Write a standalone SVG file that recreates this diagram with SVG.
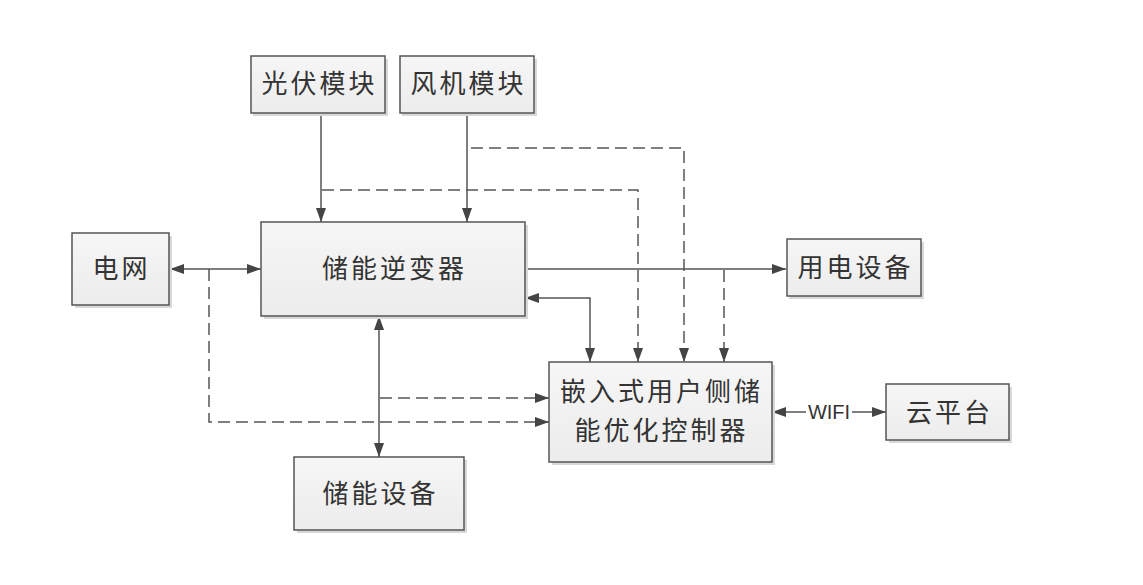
<svg xmlns="http://www.w3.org/2000/svg" width="1143" height="585" viewBox="0 0 1143 585">
<style>
.box{fill:url(#g);stroke:#555;stroke-width:1.5}
.sh{fill:#d8d8d8}
.t{font-family:"Noto Sans CJK SC","Liberation Sans",sans-serif;font-size:26px;letter-spacing:3px;fill:#333;text-anchor:middle}
.s{fill:none;stroke:#555;stroke-width:1.5}
.d{fill:none;stroke:#555;stroke-width:1.5;stroke-dasharray:12 6}
.w{font-family:"Liberation Sans",Arial,sans-serif;font-size:20px;fill:#333;text-anchor:middle}
</style>
<defs>
<linearGradient id="g" x1="0" y1="0" x2="0" y2="1">
<stop offset="0" stop-color="#f6f6f6"/>
<stop offset="1" stop-color="#ececec"/>
</linearGradient>
<marker id="a" viewBox="0 0 14 10" refX="14" refY="5" markerWidth="14" markerHeight="10" markerUnits="userSpaceOnUse" orient="auto-start-reverse">
<path d="M0,0 L14,5 L0,10 Z" fill="#444"/>
</marker>
</defs>
<rect width="1143" height="585" fill="#fff"/>
<g id="connectors">
<line class="s" x1="321" y1="113" x2="321" y2="222" marker-end="url(#a)"/>
<line class="s" x1="467" y1="113" x2="467" y2="222" marker-end="url(#a)"/>
<polyline class="d" points="471,148 684,148 684,362" marker-end="url(#a)"/>
<polyline class="d" points="322,190 638,190 638,362" marker-end="url(#a)"/>
<line class="s" x1="170" y1="269" x2="261" y2="269" marker-start="url(#a)" marker-end="url(#a)"/>
<polyline class="d" points="209,269 209,422 549,422" marker-end="url(#a)"/>
<line class="s" x1="525" y1="269" x2="786" y2="269" marker-end="url(#a)"/>
<line class="d" x1="724" y1="270" x2="724" y2="362" marker-end="url(#a)"/>
<polyline class="s" points="525,298 590,298 590,362" marker-start="url(#a)" marker-end="url(#a)"/>
<line class="s" x1="379" y1="316" x2="379" y2="457" marker-start="url(#a)" marker-end="url(#a)"/>
<line class="d" x1="380" y1="398" x2="549" y2="398" marker-end="url(#a)"/>
<line class="s" x1="772" y1="412" x2="806" y2="412" marker-start="url(#a)"/>
<line class="s" x1="852" y1="412" x2="886" y2="412" marker-end="url(#a)"/>
<text class="w" x="829" y="419">WIFI</text>
</g>
<g id="pv">
<rect class="sh" x="253" y="59" width="135" height="57"/>
<rect class="box" x="251" y="56" width="134" height="57"/>
<text class="t" x="319.5" y="93">光伏模块</text>
</g>
<g id="wind">
<rect class="sh" x="402" y="59" width="135" height="57"/>
<rect class="box" x="400" y="56" width="134" height="57"/>
<text class="t" x="468.5" y="93">风机模块</text>
</g>
<g id="grid">
<rect class="sh" x="75" y="236" width="97" height="72"/>
<rect class="box" x="72" y="233" width="97" height="72"/>
<text class="t" x="121.5" y="278">电网</text>
</g>
<g id="inverter">
<rect class="sh" x="264" y="225" width="264" height="94"/>
<rect class="box" x="261" y="222" width="264" height="94"/>
<text class="t" x="394.5" y="278">储能逆变器</text>
</g>
<g id="load">
<rect class="sh" x="789" y="242" width="135" height="57"/>
<rect class="box" x="787" y="239" width="134" height="57"/>
<text class="t" x="855.5" y="277">用电设备</text>
</g>
<g id="controller">
<rect class="sh" x="552" y="365" width="223" height="100"/>
<rect class="box" x="549" y="362" width="223" height="100"/>
<text class="t" x="661.5" y="401">嵌入式用户侧储</text>
<text class="t" x="661.5" y="440">能优化控制器</text>
</g>
<g id="cloud">
<rect class="sh" x="889" y="387" width="123" height="56"/>
<rect class="box" x="886" y="384" width="123" height="56"/>
<text class="t" x="949.5" y="422">云平台</text>
</g>
<g id="storage">
<rect class="sh" x="297" y="460" width="170" height="73"/>
<rect class="box" x="294" y="457" width="170" height="73"/>
<text class="t" x="380.5" y="503">储能设备</text>
</g>
</svg>
